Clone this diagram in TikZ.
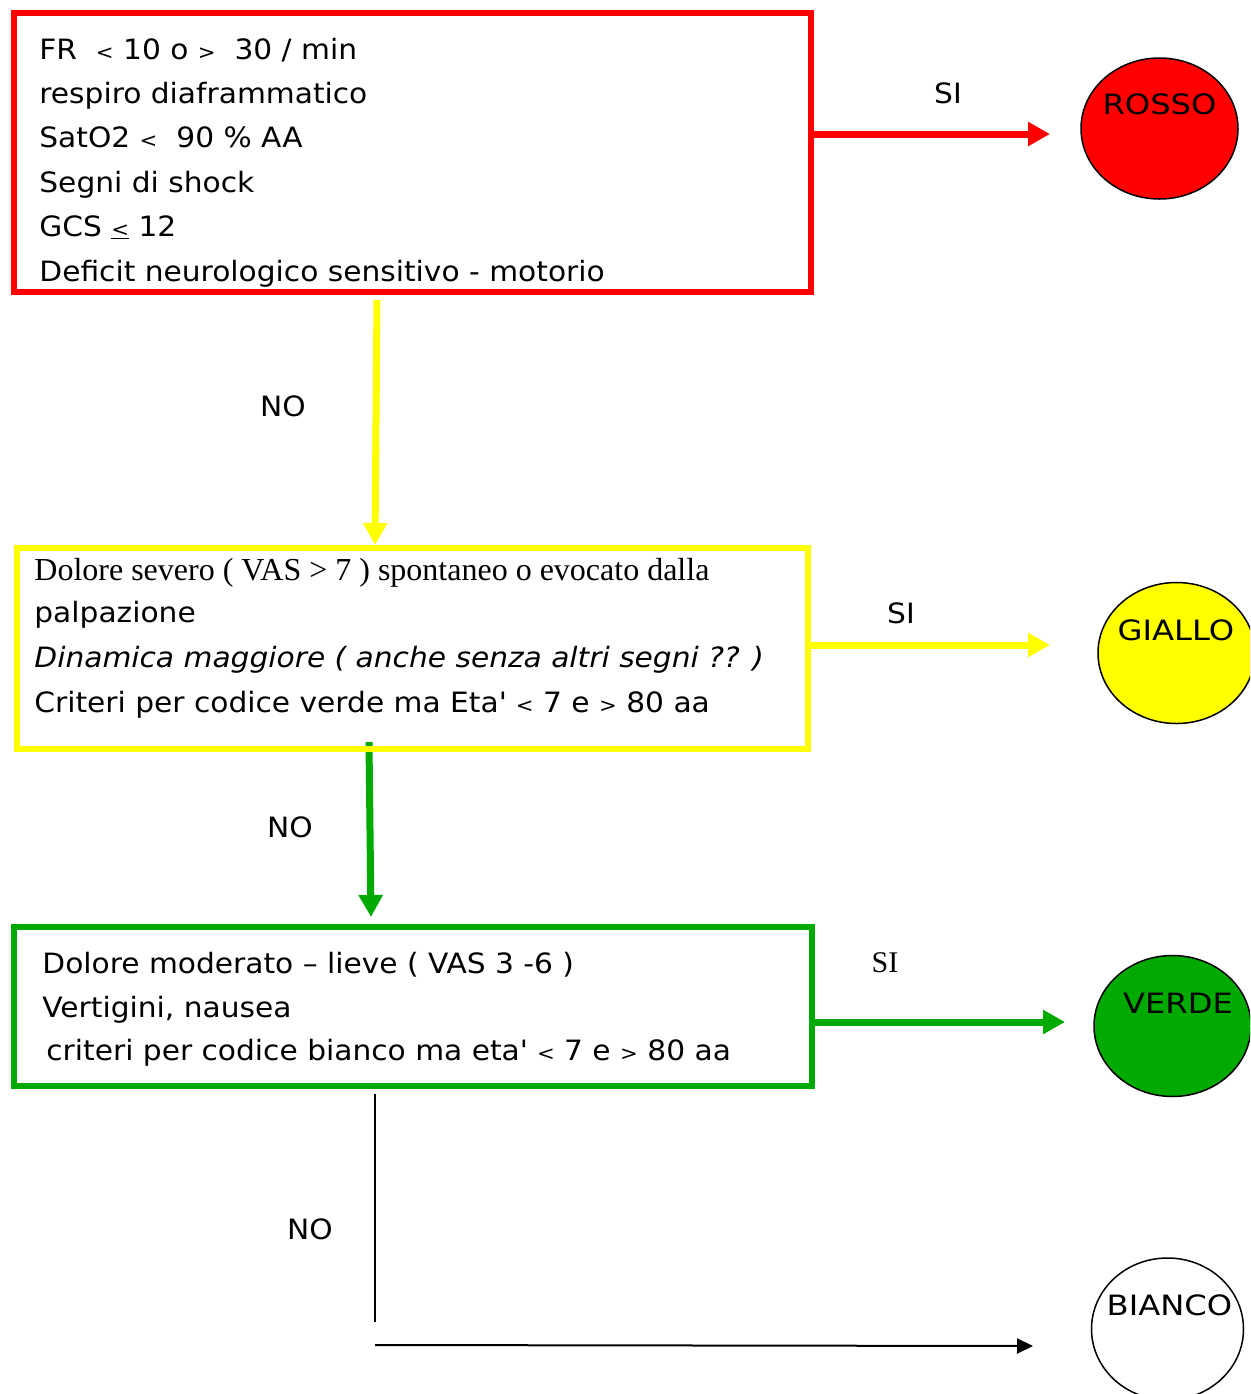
\documentclass[tikz,border=0pt]{standalone}
\usepackage{fontspec}
\setmainfont{DejaVu Sans}[FakeStretch=1.06]
\newfontfamily\capsface{DejaVu Sans}[FakeStretch=1.15]
\newfontfamily\timesface{Liberation Serif}
\usetikzlibrary{shapes.geometric,arrows.meta}

\definecolor{codered}{RGB}{255,0,0}
\definecolor{codeyellow}{RGB}{255,255,0}
\definecolor{codegreen}{RGB}{0,170,0}

% small comparison signs, as the handwriting-style face draws them
\newcommand\smlt{{\fontsize{10pt}{12pt}\selectfont<}}
\newcommand\smgt{{\fontsize{10pt}{12pt}\selectfont>}}

\tikzset{
  txtline/.style={anchor=base west, inner sep=0pt, font=\fontsize{14pt}{17pt}\selectfont},
  serifline/.style={anchor=base west, inner sep=0pt, font=\timesface\fontsize{16pt}{19pt}\selectfont},
  answer/.style={anchor=base, inner sep=0pt, font=\fontsize{14pt}{17pt}\selectfont},
  codebox/.style={draw=#1, line width=3pt, inner sep=0pt},
  codedisc/.style={ellipse, draw=black, line width=0.75pt, fill=#1,
    minimum width=78.5pt, minimum height=70.5pt, inner sep=0pt},
  codename/.style={anchor=base, inner sep=0pt, font=\capsface\fontsize{14pt}{17pt}\selectfont},
  flow/.style={line width=3.5pt, -{Triangle[length=11pt,width=11.5pt]}},
  thinflow/.style={line width=1pt, -{Triangle[length=8pt,width=7.5pt]}},
}

\begin{document}
\begin{tikzpicture}[x=0.5pt,y=-0.5pt]
\useasboundingbox (0,0) rectangle (1250,1394);
\clip (0,0) rectangle (1250,1394);

% colour-code discs
\node[codedisc=codered] (rosso) at (1159.5,128.5) {};
\node[codedisc=codeyellow] (giallo) at (1176.5,653) {};
\node[codedisc=codegreen] (verde) at (1172.5,1026) {};
\node[codedisc=white, minimum width=76pt, minimum height=71pt] (bianco) at (1167.5,1329) {};
\node[codename] (rossoname) at (1159.5,114) {ROSSO};
\node[codename] (gialloname) at (1176,640) {GIALLO};
\node[codename] (verdename) at (1178,1013) {VERDE};
\node[codename] (bianconame) at (1169.5,1315) {BIANCO};

% free ends of the connectors
\coordinate (redsi) at (1050,134);
\coordinate (yellowsi) at (1050,645);
\coordinate (greensi) at (1065,1022);
\coordinate (redno) at (377,300);
\coordinate (yellowno) at (369,742);
\coordinate (greenno) at (371,917);
\coordinate (blackno) at (375,1094);
\coordinate (blackbend) at (375,1322);
\coordinate (blackstart) at (375,1345);
\coordinate (blackend) at (1033,1346);

% green NO arrow sits under the yellow frame
\draw[flow, draw=codegreen, fill=codegreen] (yellowno) -- (greenno);

% criteria boxes
\node[codebox=codered, minimum width=398.5pt, minimum height=139.75pt] (redbox) at (412.5,152.25) {};
\node[codebox=codeyellow, minimum width=395.5pt, minimum height=100.5pt] (yellowbox) at (412.5,648.5) {};
\node[codebox=codegreen, minimum width=399.25pt, minimum height=79.5pt] (greenbox) at (412.75,1006.5) {};

% red criteria
\node[txtline] (r1) at (39,59) {FR ~\smlt{} 10 o \smgt{} ~30 / min};
\node[txtline] (r2) at (39,103) {respiro diaframmatico};
\node[txtline] (r3) at (39,147) {SatO2 \smlt{} ~90 \% AA};
\node[txtline] (r4) at (39,192) {Segni di shock};
\node[txtline] (r5) at (39,236) {GCS \underline{\smlt} 12};
\node[txtline] (r6) at (39,281) {Deficit neurologico sensitivo - motorio};

% yellow criteria
\node[serifline] (y1) at (34,580) {Dolore severo ( VAS > 7 ) spontaneo o evocato dalla};
\node[txtline] (y2) at (34,622) {palpazione};
\node[txtline, font=\itshape\fontsize{14pt}{17pt}\selectfont] (y3) at (34,667) {Dinamica maggiore ( anche senza altri segni ?? )};
\node[txtline] (y4) at (34,712) {Criteri per codice verde ma Eta\textquotesingle{} \smlt{} 7 e \smgt{} 80 aa};

% green criteria
\node[txtline] (g1) at (42,973) {Dolore moderato – lieve ( VAS 3 -6 )};
\node[txtline] (g2) at (42,1017) {Vertigini, nausea};
\node[txtline] (g3) at (46,1060) {criteri per codice bianco ma eta\textquotesingle{} \smlt{} 7 e \smgt{} 80 aa};

% SI connectors
\draw[flow, draw=codered, fill=codered] (redbox.east |- redsi) -- (redsi);
\draw[flow, draw=codeyellow, fill=codeyellow] (yellowbox.east |- yellowsi) -- (yellowsi);
\draw[flow, draw=codegreen, fill=codegreen] (greenbox.east |- greensi) -- (greensi);

% NO connectors
\draw[flow, draw=codeyellow, fill=codeyellow] (redno) -- (375,0 |- yellowbox.north);
\draw[line width=0.75pt] (blackno) -- (blackbend);
\draw[thinflow] (blackstart) -- (blackend);

% answer labels
\node[answer] (si1) at (948,103) {SI};
\node[answer] (si2) at (901,623) {SI};
\node[answer, font=\timesface\fontsize{15pt}{18pt}\selectfont] (si3) at (885,972) {SI};
\node[answer] (no1) at (283,416) {NO};
\node[answer] (no2) at (290,837) {NO};
\node[answer] (no3) at (310,1239) {NO};
\end{tikzpicture}
\end{document}
